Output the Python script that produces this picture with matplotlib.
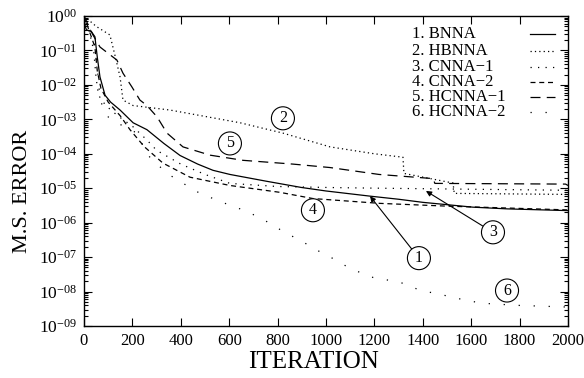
import numpy as np
import matplotlib
matplotlib.use('Agg')
import matplotlib.pyplot as plt
from matplotlib.ticker import LogLocator, NullFormatter
from matplotlib.lines import Line2D

plt.rcParams['font.family'] = ['Liberation Serif', 'DejaVu Serif']
plt.rcParams['mathtext.fontset'] = 'custom'
plt.rcParams['mathtext.rm'] = 'Liberation Serif'

# data: iteration and log10 of the M.S. error
bnna_it = [0, 5, 10, 30, 45, 55, 66, 87, 110, 149, 203, 260, 330, 397, 470, 533, 603,
           756, 900, 1000, 1182, 1300, 1400, 1607, 1750, 2000]
bnna_lg = [0, -0.3, -0.4, -0.45, -0.6, -1.2, -1.77, -2.3, -2.5, -2.73, -3.1, -3.3, -3.7,
           -4.05, -4.3, -4.48, -4.6, -4.8, -4.98, -5.08, -5.23, -5.32, -5.41, -5.55, -5.6,
           -5.65]

hbnna_it = [0, 50, 107, 130, 149, 161, 203, 355, 645, 822, 1017, 1200, 1318, 1322, 1525,
            1530, 2000]
hbnna_lg = [0, -0.3, -0.55, -1.2, -1.77, -2.44, -2.6, -2.73, -3.1, -3.4, -3.8, -4.0,
            -4.1, -4.57, -4.85, -5.15, -5.18]

cnna1_it = [0, 20, 40, 50, 60, 90, 140, 200, 260, 300, 400, 500, 603, 800, 1017, 1223, 2000]
cnna1_lg = [0, -0.4, -1.0, -1.8, -2.3, -2.6, -2.9, -3.2, -3.6, -3.9, -4.3, -4.6, -4.86,
            -4.95, -4.98, -5.0, -5.06]

cnna2_it = [0, 20, 45, 55, 70, 100, 150, 190, 250, 326, 438, 603, 810, 946, 1223, 1500, 2000]
cnna2_lg = [0, -0.4, -0.9, -1.6, -2.1, -2.5, -2.9, -3.3, -3.8, -4.27, -4.68, -4.92, -5.12,
            -5.3, -5.44, -5.52, -5.63]

hcnna1_it = [0, 37, 66, 136, 161, 198, 231, 260, 302, 343, 409, 521, 657, 864, 1017, 1219,
             1442, 1450, 1990, 2000]
hcnna1_lg = [0, -0.55, -0.9, -1.28, -1.66, -2.06, -2.44, -2.6, -2.93, -3.4, -3.8, -4.04,
             -4.19, -4.3, -4.4, -4.6, -4.72, -4.86, -4.88, -4.92]

hcnna2_it = [0, 20, 40, 55, 65, 79, 100, 136, 219, 260, 285, 350, 466, 560, 645, 727, 822,
             905, 963, 1045, 1099, 1194, 1306, 1388, 1483, 1582, 1649, 1789, 2000]
hcnna2_lg = [0, -0.35, -0.6, -1.5, -2.3, -2.73, -2.93, -3.1, -3.4, -4.0, -4.2, -4.6, -5.1,
             -5.38, -5.6, -5.85, -6.25, -6.56, -6.8, -7.1, -7.33, -7.59, -7.73, -7.96, -8.1,
             -8.26, -8.34, -8.4, -8.45]

names = ['1. BNNA', '2. HBNNA', '3. CNNA\u22121', '4. CNNA\u22122', '5. HCNNA\u22121',
         '6. HCNNA\u22122']
styles = ['-', (0, (1, 2.5)), (0, (1, 5)), (0, (4, 3)), (0, (8, 5)), (0, (1, 11))]
series = [(bnna_it, bnna_lg), (hbnna_it, hbnna_lg), (cnna1_it, cnna1_lg),
          (cnna2_it, cnna2_lg), (hcnna1_it, hcnna1_lg), (hcnna2_it, hcnna2_lg)]

xticks = list(range(0, 2001, 200))
yexp = list(range(0, -10, -1))
ylabels = [r'$\mathregular{10^{00}}$'] + [r'$\mathregular{10^{-0%d}}$' % (-e) for e in yexp[1:]]

fig = plt.figure(figsize=(5.84, 3.78), dpi=100)
ax = fig.add_axes([84 / 584, 1 - 326 / 378, 484 / 584, 310 / 378])

for (it, lg), ls in zip(series, styles):
    ax.plot(it, np.power(10.0, lg), color='black', lw=0.9, linestyle=ls)

ax.set_yscale('log')
ax.set_xlim(0, 2000)
ax.set_ylim(1e-9, 1)
ax.set_xticks(xticks)
ax.set_xticklabels([str(t) for t in xticks], fontsize=12)
ax.set_yticks([10.0 ** e for e in yexp])
ax.set_yticklabels(ylabels, fontsize=12.5)
ax.yaxis.set_minor_locator(LogLocator(base=10, subs=np.arange(2, 10)))
ax.yaxis.set_minor_formatter(NullFormatter())
ax.tick_params(which='both', direction='in', top=True, right=True, width=0.8)
ax.tick_params(which='major', length=6, pad=5)
ax.tick_params(which='minor', length=3)
for s in ax.spines.values():
    s.set_linewidth(1.0)

fig.text(313 / 584, 1 - 362 / 378, 'ITERATION', ha='center', va='center', fontsize=18)
fig.text(23 / 584, 1 - 191 / 378, 'M.S. ERROR', ha='center', va='center', fontsize=16,
         rotation=90)

# key: left aligned text, line sample to its right
key_y = [34, 51, 67, 82, 97, 112]
for name, ls, yp in zip(names, styles, key_y):
    yf = (326 - yp) / 310
    ax.text(0.678, yf, name, transform=ax.transAxes, ha='left', va='center', fontsize=12)
    ax.add_line(Line2D([0.921, 0.973], [yf, yf], transform=ax.transAxes, color='black',
                       lw=0.9, linestyle=ls))

circ = dict(boxstyle='circle,pad=0.22', fc='white', ec='black', lw=0.8)
ax.text(822, 10 ** -2.97, '2', ha='center', va='center', fontsize=11.5, bbox=circ)
ax.text(603, 10 ** -3.7, '5', ha='center', va='center', fontsize=11.5, bbox=circ)
ax.text(946, 10 ** -5.64, '4', ha='center', va='center', fontsize=11.5, bbox=circ)
ax.text(1748, 10 ** -7.97, '6', ha='center', va='center', fontsize=11.5, bbox=circ)
arrow = dict(arrowstyle='-|>', color='black', lw=0.8, mutation_scale=8, shrinkA=0, shrinkB=0)
ax.annotate('1', xy=(1182, 10 ** -5.23), xytext=(1384, 10 ** -7.03), ha='center',
            va='center', fontsize=11.5, bbox=circ, arrowprops=arrow)
ax.annotate('3', xy=(1413, 10 ** -5.08), xytext=(1690, 10 ** -6.28), ha='center',
            va='center', fontsize=11.5, bbox=circ, arrowprops=arrow)

fig.savefig('out.png', dpi=100)
